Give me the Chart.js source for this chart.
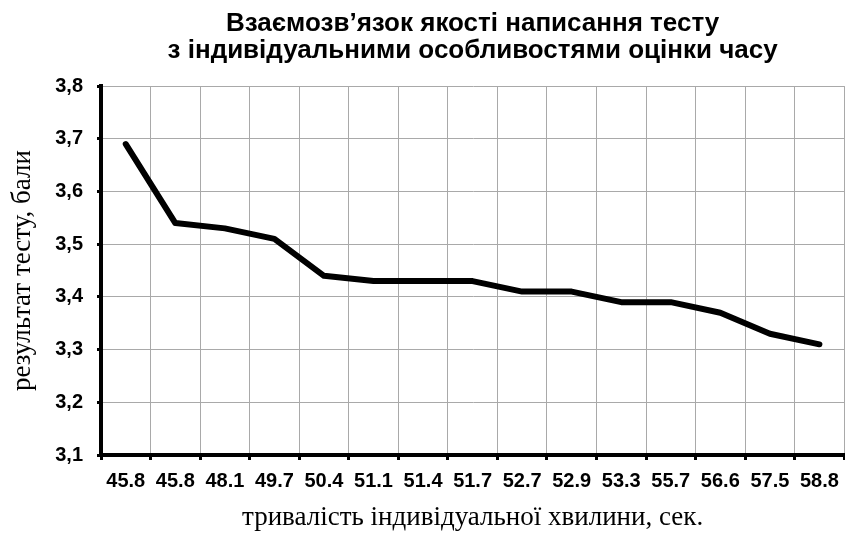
<!DOCTYPE html>
<html>
<head>
<meta charset="utf-8">
<script src="https://cdn.jsdelivr.net/npm/chart.js@4/dist/chart.umd.min.js"></script>
<style>
  html, body { margin: 0; padding: 0; background: #fff; overflow: hidden; }
  #wrap { position: relative; width: 848px; height: 542px; }
</style>
</head>
<body>
<div id="wrap"><canvas id="chart"></canvas></div>
<script>
// тривалість індивідуальної хвилини (категорії осі X)
const minuteLabels = ["45.8","45.8","48.1","49.7","50.4","51.1","51.4","51.7","52.7","52.9","53.3","55.7","56.6","57.5","58.8"]
// середній результат тесту, бали
const testScores   = [3.69, 3.54, 3.53, 3.51, 3.44, 3.43, 3.43, 3.43, 3.41, 3.41, 3.39, 3.39, 3.37, 3.33, 3.31]
const yMin  = 3.1
const yMax  = 3.8
const yStep = 0.1

const titleLines = ["Взаємозв’язок якості написання тесту", "з індивідуальними особливостями оцінки часу"]
const xTitle     = "тривалість індивідуальної хвилини, сек."
const yTitle     = "результат тесту, бали"

const SANS  = "'Liberation Sans', Arial, sans-serif"
const SERIF = "'Liberation Serif', 'Times New Roman', serif"
const GRID  = "#a9a9a9"

new Chart(document.getElementById("chart"), {
  type: "line",
  data: {
    labels: minuteLabels,
    datasets: [{
      data: testScores,
      borderColor:     "#000",
      borderWidth:     6,
      borderCapStyle:  "round",
      borderJoinStyle: "round",
      pointRadius:     0,
      tension:         0,
      fill:            false
    }]
  },
  options: {
    responsive:          true,
    maintainAspectRatio: false,
    animation:           false,
    layout: { padding: 0 },
    plugins: {
      legend:  { display: false },
      tooltip: { enabled: false },
      title: {
        display:  true,
        fullSize: false,
        text:     titleLines,
        color:    "#000",
        font:     { family: SANS, size: 26, weight: "bold", lineHeight: 1.04 },
        padding:  { top: 10, bottom: 22 }
      }
    },
    scales: {
      x: {
        offset: true,
        afterFit: s => { s.height = 87 },
        grid: {
          offset:     true,
          color:      GRID,
          lineWidth:  1,
          tickLength: 5,
          tickColor:  "#000",
          tickWidth:  3
        },
        border: { display: true, color: "#000", width: 4 },
        ticks: {
          color:       "#000",
          font:        { family: SANS, size: 20, weight: "bold" },
          padding:     9,
          maxRotation: 0,
          autoSkip:    false
        },
        title: {
          display: true,
          text:    xTitle,
          color:   "#000",
          font:    { family: SERIF, size: 27, lineHeight: 1.2 },
          padding: { top: 9, bottom: 8 }
        }
      },
      y: {
        min: yMin,
        max: yMax,
        afterFit: s => { s.width = 101 },
        grid: {
          color:      GRID,
          lineWidth:  1,
          tickLength: 4,
          tickColor:  "#000",
          tickWidth:  3
        },
        border: { display: true, color: "#000", width: 4 },
        ticks: {
          stepSize: yStep,
          color:    "#000",
          font:     { family: SANS, size: 20, weight: "bold" },
          padding:  14,
          callback: v => v.toFixed(1).replace(".", ",")
        },
        title: {
          display: true,
          text:    yTitle,
          color:   "#000",
          font:    { family: SERIF, size: 27, lineHeight: 1.2 },
          padding: { top: 7, bottom: 4 }
        }
      }
    }
  }
})
</script>
</body>
</html>
